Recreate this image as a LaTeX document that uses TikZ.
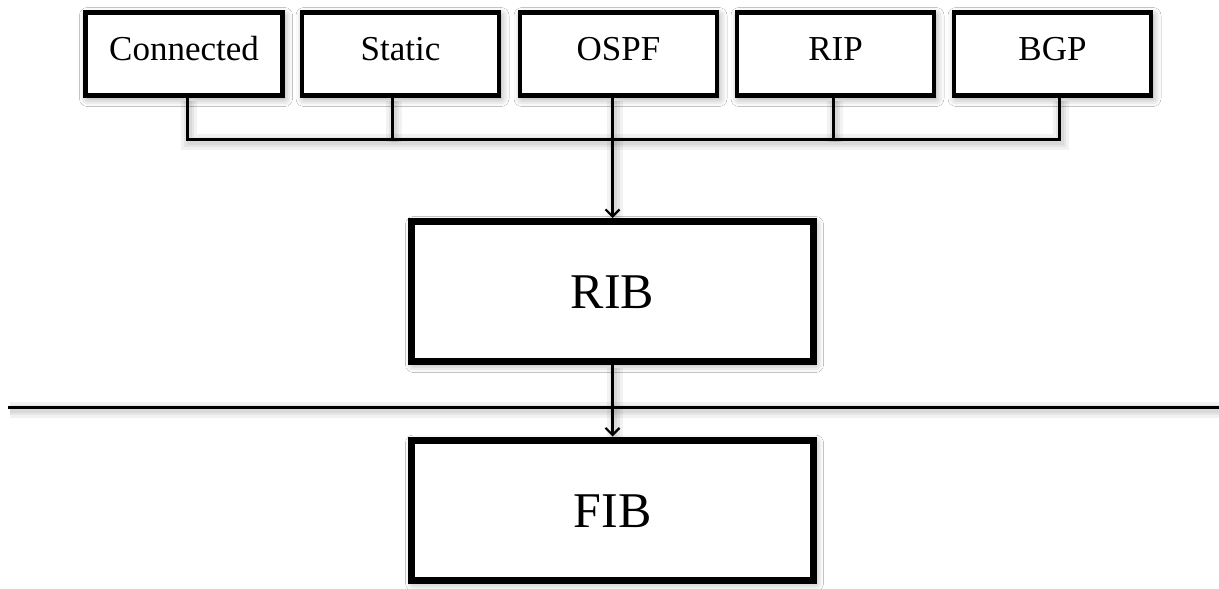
\documentclass[tikz,border=0pt]{standalone}
\usepackage{fontspec}
\setmainfont{Liberation Serif}
\usetikzlibrary{shadows.blur,arrows.meta}

\begin{document}
\begin{tikzpicture}[x=1pt,y=-1pt,
  boxshadow/.style={blur shadow={shadow xshift=2pt, shadow yshift=-3pt,
      shadow blur radius=8pt, shadow opacity=40}},
  lineshadow/.style={
      preaction={draw, arrows=-, black, opacity=0.05, line width=16pt,
        transform canvas={shift={(2pt,-3pt)}}},
      preaction={draw, arrows=-, black, opacity=0.05, line width=10pt,
        transform canvas={shift={(2pt,-3pt)}}},
      preaction={draw, arrows=-, black, opacity=0.05, line width=5pt,
        transform canvas={shift={(2pt,-3pt)}}}},
  srcbox/.style={draw, fill=white, line width=4.5pt, boxshadow,
      minimum width=197pt, minimum height=83pt, inner sep=0pt,
      text height=24pt, text depth=11pt,
      font=\fontsize{35}{40}\selectfont},
  tablebox/.style={draw, fill=white, line width=7pt, boxshadow,
      minimum width=402pt, minimum height=140pt, inner sep=0pt,
      text height=34pt, text depth=0pt,
      font=\fontsize{50}{56}\selectfont},
  link/.style={line width=3pt, lineshadow},
  flow/.style={line width=3pt, lineshadow,
      -{Straight Barb[length=7pt,width=14pt,line width=2.2pt]}}
]
\useasboundingbox[fill=white] (0,0) rectangle (1219,589);

% collecting bus
\coordinate (d1) at (187,139);
\coordinate (d2) at (392,139);
\coordinate (d4) at (833,139);
\coordinate (d5) at (1059,139);

% separator between control and forwarding plane
\coordinate (sepL) at (8,407);
\coordinate (sepR) at (1219,407);

% route sources
\node[srcbox] (conn)   at (184,54)    {Connected};
\node[srcbox] (static) at (400.5,54)  {Static};
\node[srcbox] (ospf)   at (618.5,54)  {OSPF};
\node[srcbox] (rip)    at (835.5,54)  {RIP};
\node[srcbox] (bgp)    at (1052.5,54) {BGP};

% routing and forwarding tables
\node[tablebox] (rib) at (612.5,291.5) {RIB};
\node[tablebox] (fib) at (612.5,510)   {FIB};

\draw[link] (d1 |- conn.south) -- (d1) -- (d5) -- (d5 |- bgp.south);
\draw[link] (d2 |- static.south) -- (d2);
\draw[link] (d4 |- rip.south) -- (d4);

% into the RIB and down to the FIB
\draw[flow] (rib.north |- ospf.south) -- (rib.north);
\draw[line width=3pt, lineshadow] (sepL) -- (sepR);
\draw[flow] (rib.south) -- (fib.north);
\end{tikzpicture}
\end{document}
